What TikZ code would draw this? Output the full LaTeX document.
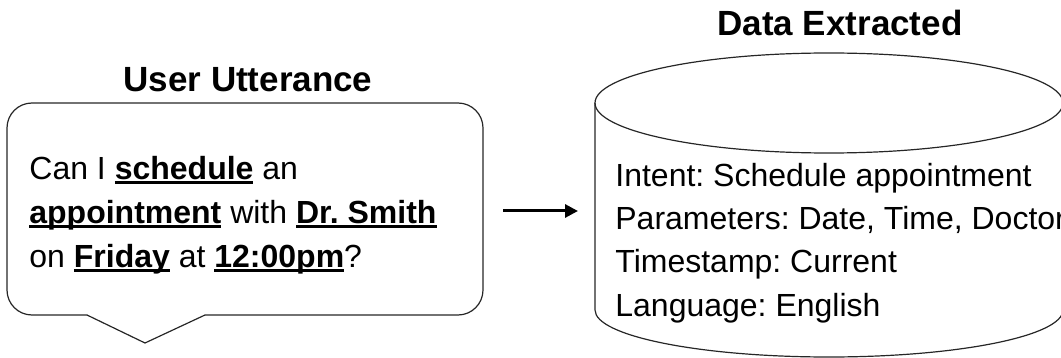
\documentclass[tikz,border=0pt]{standalone}
\usepackage{fontspec}
\setmainfont{Liberation Sans}
\frenchspacing
\usetikzlibrary{arrows.meta,positioning}
\newcommand{\keyword}[1]{\setbox0\hbox{\bfseries #1}\rlap{\rule[-2.2pt]{\wd0}{1.1pt}}\box0\relax}
\tikzset{
    heading/.style={font=\fontsize{17.5}{21}\selectfont\bfseries, inner sep=0pt},
    bodytext/.style={font=\fontsize{16}{22}\selectfont, align=left, anchor=west, inner sep=0pt},
    outline/.style={line width=0.6pt, draw=black!85},
    flow/.style={line width=1.5pt, -{Triangle[length=6.5pt,width=6.5pt]}},
    x=0.5pt, y=0.5pt
}
\begin{document}
\begin{tikzpicture}
			\useasboundingbox (0,0) rectangle (1061,-358);
			% speech bubble
			\coordinate (tailL) at (87,-315);
			\coordinate (tailtip) at (145,-343);
			\coordinate (tailR) at (205,-315);
			\draw[outline, rounded corners=12.5pt] (tailR) -- (483,-315) -- (483,-103) -- (7,-103) -- (7,-315) -- (tailL);
			\draw[outline] (tailL) -- (tailtip) -- (tailR);
			\node[heading] (usertitle) at (248,-80) {User Utterance};
			\node[bodytext] (utterance) at (29,-215) {Can I \keyword{schedule} an\\ \keyword{appointment} with \keyword{Dr. Smith}\\ on \keyword{Friday} at \keyword{12:00pm}?};

			% data store
			\draw[outline] (595,-103) -- (595,-310) arc[start angle=180, end angle=360, x radius=234, y radius=47] -- (1063,-103);
			\draw[outline] (829,-103) ellipse [x radius=234, y radius=50];
			\node[heading] (datatitle) at (840,-23) {Data Extracted};
			\node[bodytext, font=\fontsize{16}{21.7}\selectfont] (record) at (615,-243) {Intent: Schedule appointment\\ Parameters: Date, Time, Doctor\\ Timestamp: Current\\ Language: English};

			\coordinate (from) at (503,-211);
			\coordinate (to) at (578,-211);
			\draw[flow] (from) -- (to);
		\end{tikzpicture}
\end{document}
